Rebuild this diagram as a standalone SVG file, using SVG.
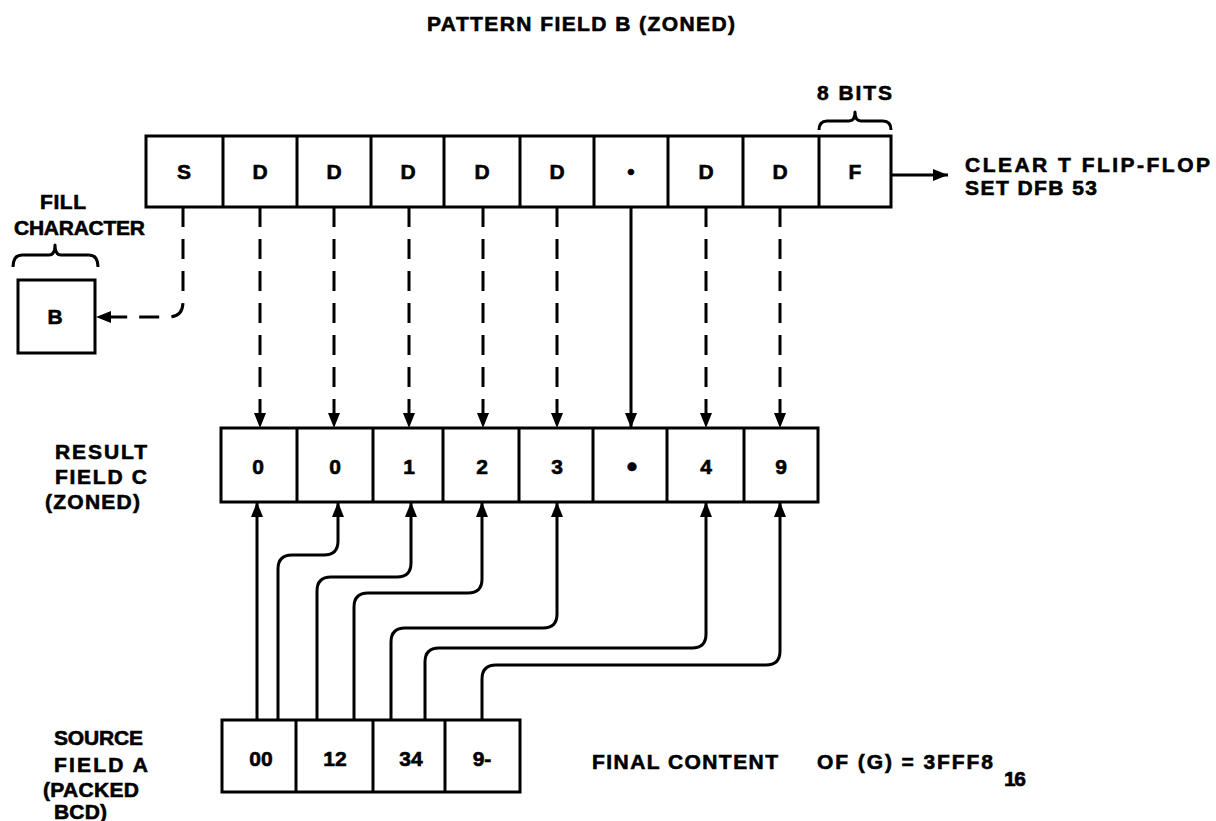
<svg xmlns="http://www.w3.org/2000/svg" width="1216" height="821" viewBox="0 0 1216 821">
<defs>
<style>
.t{font-family:"Liberation Sans",Arial,sans-serif;font-weight:bold;font-size:21px;fill:#000;stroke:#000;stroke-width:0.6}
.c{text-anchor:middle}
.box{fill:#fff;stroke:#000;stroke-width:3}
.div{stroke:#000;stroke-width:3}
.ln{fill:none;stroke:#000;stroke-width:3}
.dash{stroke-dasharray:20 12}
.br{fill:none;stroke:#000;stroke-width:3;stroke-linejoin:round}
</style>
<marker id="ah" markerUnits="userSpaceOnUse" markerWidth="15" markerHeight="12" refX="15" refY="6" orient="auto">
<path d="M0,0 L15,6 L0,12 z" fill="#000"/>
</marker>
</defs>
<rect width="1216" height="821" fill="#fff"/>

<text class="t" x="427" y="31" textLength="308" lengthAdjust="spacing">PATTERN FIELD B (ZONED)</text>

<g id="patternB">
<rect class="box" x="146" y="136" width="745" height="71"/>
<path class="div" d="M223,136V207M297,136V207M371,136V207M444,136V207M520,136V207M594,136V207M668,136V207M743,136V207M819,136V207"/>
<g class="t c">
<text x="184" y="179">S</text>
<text x="260" y="179">D</text>
<text x="334" y="179">D</text>
<text x="408" y="179">D</text>
<text x="482" y="179">D</text>
<text x="557" y="179">D</text>
<text x="631" y="179">•</text>
<text x="706" y="179">D</text>
<text x="780" y="179">D</text>
<text x="855" y="179">F</text>
</g>
</g>

<g id="bits">
<path class="br" d="M819,130 Q819,121 827,121 H849 Q855,121 855,112 Q855,121 861,121 H883 Q891,121 891,130"/>
<text class="t" x="817" y="100" textLength="75" lengthAdjust="spacing">8 BITS</text>
</g>

<g id="clear">
<text class="t" x="965" y="172" textLength="245" lengthAdjust="spacing">CLEAR T FLIP-FLOP</text>
<text class="t" x="965" y="195" textLength="132" lengthAdjust="spacing">SET DFB 53</text>
</g>

<g id="fill">
<text class="t" x="40" y="209" textLength="46" lengthAdjust="spacing">FILL</text>
<text class="t" x="14" y="235" font-size="19.5" textLength="131" lengthAdjust="spacing">CHARACTER</text>
<path class="br" d="M13,267 Q13,255 22,255 H49 Q55,255 55,245 Q55,255 61,255 H89 Q98,255 98,267"/>
<rect class="box" x="18" y="280" width="77" height="73"/>
<text class="t c" x="55" y="324">B</text>
</g>

<g id="resultC">
<text class="t" x="55" y="459" textLength="92" lengthAdjust="spacing">RESULT</text>
<text class="t" x="55" y="484" textLength="92" lengthAdjust="spacing">FIELD C</text>
<text class="t" x="45" y="509" textLength="95" lengthAdjust="spacing">(ZONED)</text>
<rect class="box" x="221" y="428" width="597" height="74"/>
<path class="div" d="M297,428V502M373,428V502M443,428V502M519,428V502M593,428V502M667,428V502M744,428V502"/>
<g class="t c">
<text x="258" y="474">0</text>
<text x="335" y="474">0</text>
<text x="409" y="474">1</text>
<text x="482" y="474">2</text>
<text x="557" y="474">3</text>
<text x="632" y="477" font-size="30">•</text>
<text x="706" y="474">4</text>
<text x="781" y="474">9</text>
</g>
</g>

<g id="sourceA">
<text class="t" x="54" y="745" font-size="20" textLength="89" lengthAdjust="spacing">SOURCE</text>
<text class="t" x="54" y="772" textLength="94" lengthAdjust="spacing">FIELD A</text>
<text class="t" x="43" y="797" font-size="20" textLength="96" lengthAdjust="spacing">(PACKED</text>
<text class="t" x="54" y="819" textLength="53" lengthAdjust="spacing">BCD)</text>
<rect class="box" x="222" y="720" width="298" height="72"/>
<path class="div" d="M296,720V792M373,720V792M445,720V792"/>
<g class="t c">
<text x="261" y="766">00</text>
<text x="335" y="766">12</text>
<text x="411" y="766">34</text>
<text x="482" y="766">9-</text>
</g>
</g>

<g id="final">
<text class="t" x="592" y="769" textLength="186" lengthAdjust="spacing">FINAL CONTENT</text>
<text class="t" x="817" y="769" textLength="176" lengthAdjust="spacing">OF (G) = 3FFF8</text>
<text class="t" x="1004" y="786" textLength="22" lengthAdjust="spacing">16</text>
</g>

<g id="connectors">
<path class="ln" d="M891,175 H948" marker-end="url(#ah)"/>
<path class="ln dash" d="M183,207 V302 Q183,317 168,317 H96" marker-end="url(#ah)"/>
<path class="ln dash" d="M260,207 V428" marker-end="url(#ah)"/>
<path class="ln dash" d="M334,207 V428" marker-end="url(#ah)"/>
<path class="ln dash" d="M409,207 V428" marker-end="url(#ah)"/>
<path class="ln dash" d="M483,207 V428" marker-end="url(#ah)"/>
<path class="ln dash" d="M557,207 V428" marker-end="url(#ah)"/>
<path class="ln" d="M631,207 V428" marker-end="url(#ah)"/>
<path class="ln dash" d="M706,207 V428" marker-end="url(#ah)"/>
<path class="ln dash" d="M780,207 V428" marker-end="url(#ah)"/>

<path class="ln" d="M257,720 V502" marker-end="url(#ah)"/>
<path class="ln" d="M278,720 V569 Q278,555 292,555 H324 Q338,555 338,541 V502" marker-end="url(#ah)"/>
<path class="ln" d="M317,720 V591 Q317,577 331,577 H397 Q411,577 411,563 V502" marker-end="url(#ah)"/>
<path class="ln" d="M354,720 V607 Q354,593 368,593 H468 Q482,593 482,579 V502" marker-end="url(#ah)"/>
<path class="ln" d="M391,720 V642 Q391,628 405,628 H543 Q557,628 557,614 V502" marker-end="url(#ah)"/>
<path class="ln" d="M425,720 V662 Q425,648 439,648 H692 Q706,648 706,634 V502" marker-end="url(#ah)"/>
<path class="ln" d="M482,720 V679 Q482,665 496,665 H766 Q780,665 780,651 V502" marker-end="url(#ah)"/>
</g>
</svg>
